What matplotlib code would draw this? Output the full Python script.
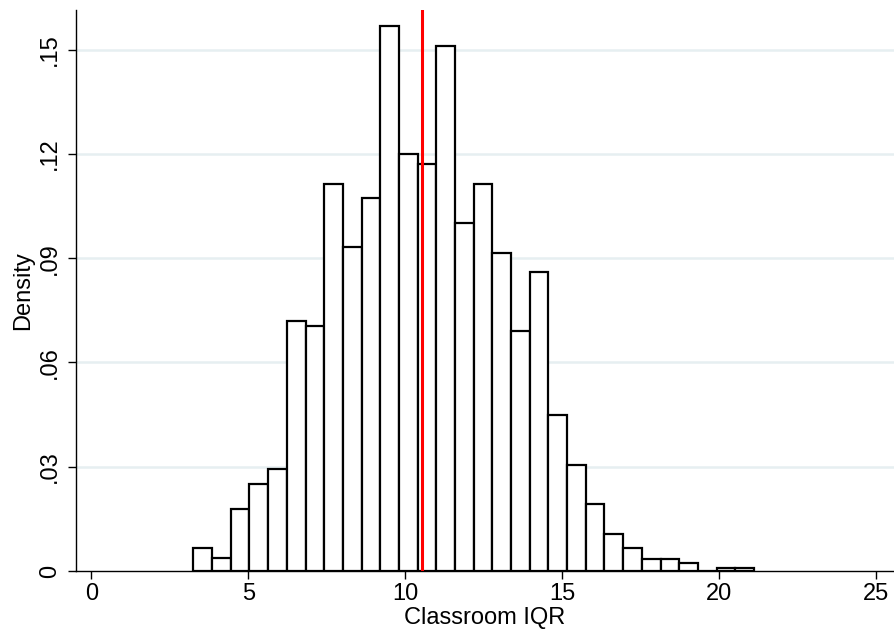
import matplotlib

matplotlib.use("Agg")
import matplotlib.pyplot as plt
import numpy as np

plt.rcParams["font.family"] = ["Liberation Sans", "DejaVu Sans"]

# histogram of classroom IQR (density per bin)
bin_start = 3.25
bin_width = 0.595
density = [0.0065, 0.0037, 0.0179, 0.0251, 0.0293, 0.0719, 0.0705, 0.1113,
           0.0932, 0.1073, 0.1568, 0.1199, 0.1171, 0.1511, 0.1001, 0.1114,
           0.0915, 0.0690, 0.0860, 0.0449, 0.0305, 0.0193, 0.0107, 0.0065,
           0.0035, 0.0035, 0.0022, 0.0, 0.0008, 0.0008]
mean_line = 10.54

x_ticks = [0, 5, 10, 15, 20, 25]
y_ticks = [0, 0.03, 0.06, 0.09, 0.12, 0.15]
y_labels = ["0", ".03", ".06", ".09", ".12", ".15"]

lefts = bin_start + bin_width * np.arange(len(density))

fig = plt.figure(figsize=(8.94, 6.34), dpi=100)
ax = fig.add_axes([76 / 894, 1 - 571 / 634, 1 - 76 / 894, (571 - 10) / 634])

for y in y_ticks[1:]:
    ax.axhline(y, color="#e6eff1", lw=1.8, zorder=0)

ax.bar(lefts, density, width=bin_width, align="edge", facecolor="white",
       edgecolor="black", linewidth=1.6, zorder=2)
ax.axvline(mean_line, color="#ff0000", lw=2.2, zorder=3)

ax.set_xlim(-0.49, 25.56)
ax.set_ylim(0, 0.1614)
ax.set_xticks(x_ticks)
ax.set_yticks(y_ticks)
ax.set_yticklabels(y_labels, rotation=90, va="center")
ax.tick_params(axis="both", direction="out", length=6, width=1, labelsize=17)
ax.tick_params(axis="x", pad=3)
ax.tick_params(axis="y", pad=5)

for s in ["top", "right"]:
    ax.spines[s].set_visible(False)
for s in ["left", "bottom"]:
    ax.spines[s].set_linewidth(1.0)
    ax.spines[s].set_color("black")

ax.set_xlabel("Classroom IQR", fontsize=17, labelpad=1)
ax.set_ylabel("Density", fontsize=17, labelpad=3)

fig.savefig("out.png", dpi=100)
